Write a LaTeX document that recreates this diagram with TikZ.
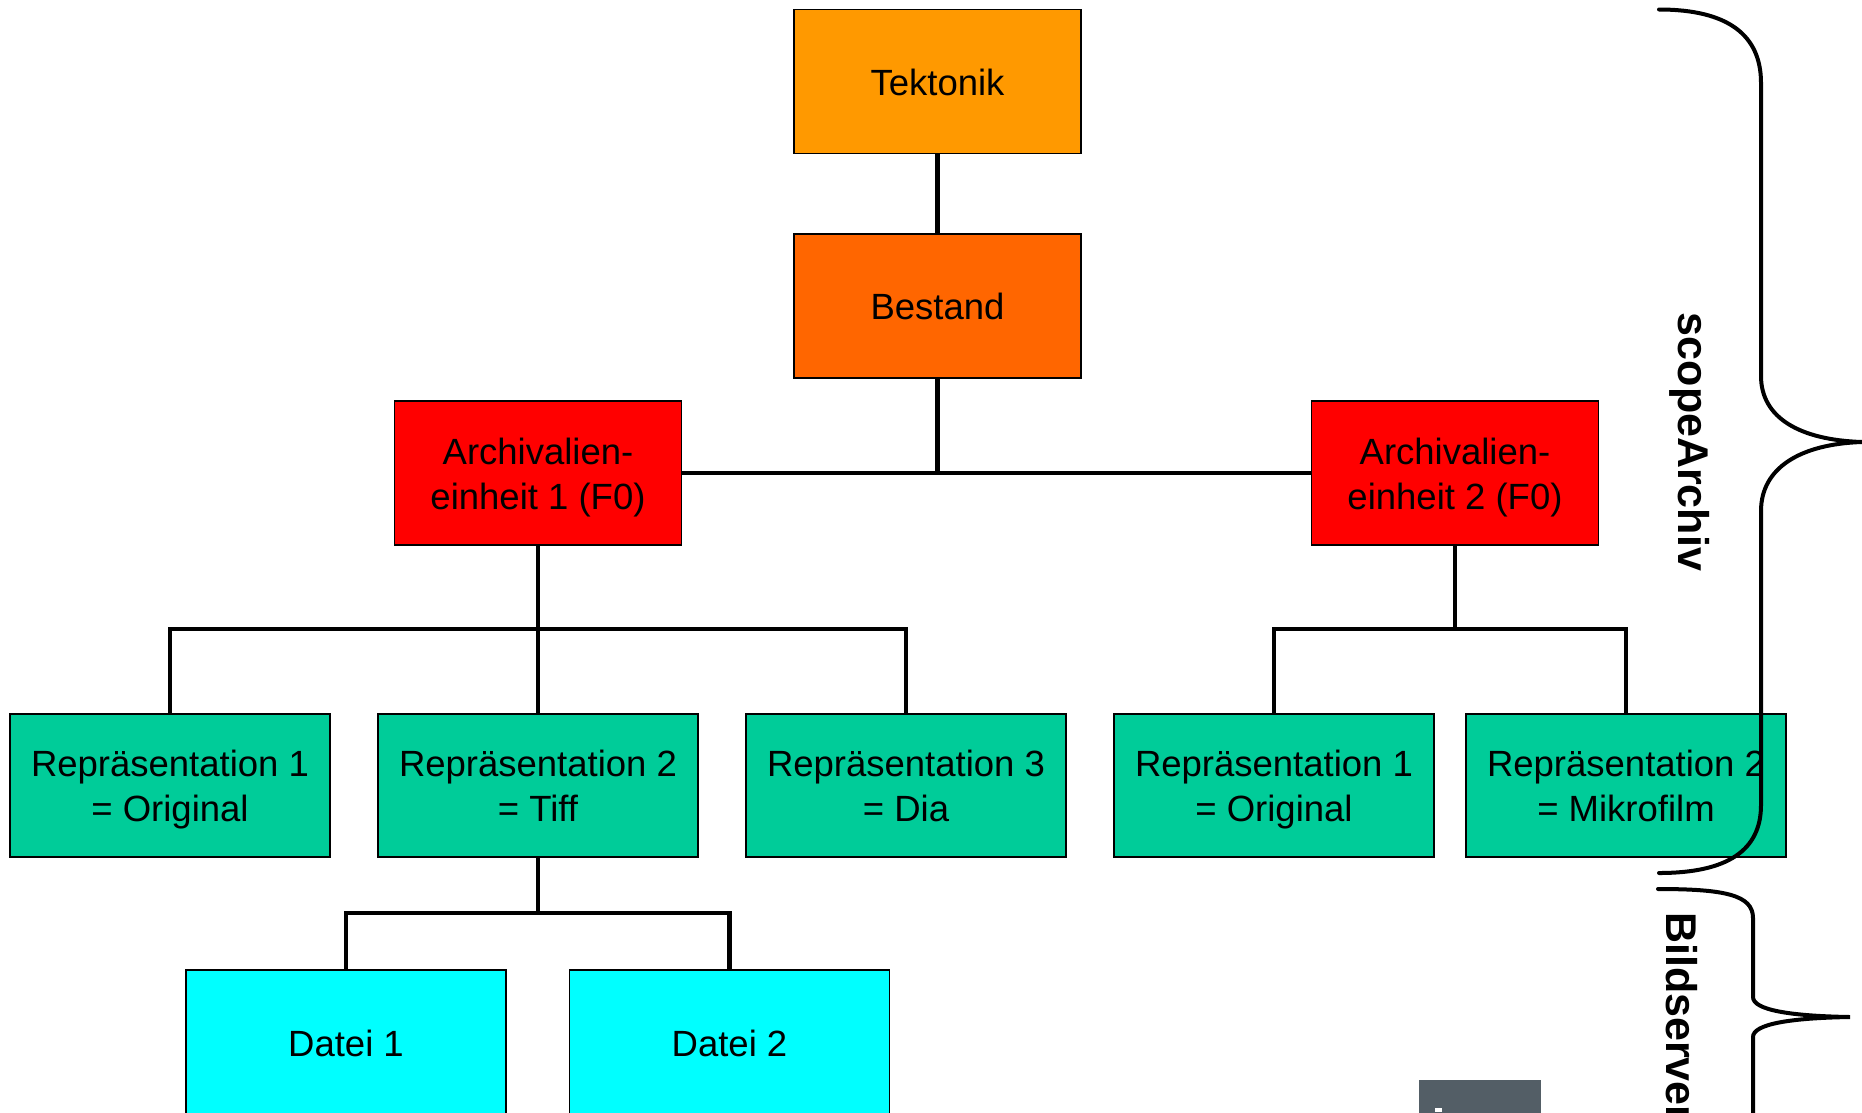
\documentclass[tikz,border=0pt]{standalone}
\usepackage{fontspec}
\setmainfont{Liberation Sans}
\definecolor{tekt}{RGB}{255,153,0}
\definecolor{best}{RGB}{255,102,0}
\definecolor{archc}{RGB}{255,0,0}
\definecolor{repc}{RGB}{0,204,153}
\definecolor{dateic}{RGB}{0,255,255}
\definecolor{grayb}{RGB}{83,94,102}
\begin{document}
\begin{tikzpicture}[x=1pt,y=-1pt,
  box/.style={draw=black, line width=1.8pt, inner sep=0pt, align=center,
    font=\fontsize{36.5}{45}\selectfont},
  oneline/.style={text height=27pt, text depth=0pt},
  twoline/.style={text height=72pt, text depth=0pt},
  topbox/.style={box, minimum width=287pt, minimum height=144pt},
  repbox/.style={box, twoline, fill=repc, minimum width=320pt, minimum height=143pt},
  dateibox/.style={box, oneline, fill=dateic, minimum width=320pt, minimum height=145pt},
  conn/.style={line width=4.4pt},
  bracepath/.style={line width=4pt, line cap=round},
  bracelabel/.style={rotate=-90, font=\fontsize{43}{43}\selectfont\bfseries, inner sep=0pt}
]
\useasboundingbox (0,0) rectangle (1862,1112);

% nodes
\node[topbox, oneline, fill=tekt] (tek) at (937.5,81.5) {Tektonik};
\node[topbox, oneline, fill=best] (best) at (937.5,306) {Bestand};
\node[topbox, twoline, fill=archc] (a1) at (538,473) {Archivalien-\\einheit 1 (F0)};
\node[topbox, twoline, fill=archc] (a2) at (1455,473) {Archivalien-\\einheit 2 (F0)};

\node[repbox] (r1) at (170,785.5) {Repräsentation 1\\= Original};
\node[repbox] (r2) at (538,785.5) {Repräsentation 2\\= Tiff};
\node[repbox] (r3) at (906,785.5) {Repräsentation 3\\= Dia};
\node[repbox] (r4) at (1274,785.5) {Repräsentation 1\\= Original};
\node[repbox] (r5) at (1626,785.5) {Repräsentation 2\\= Mikrofilm};

\node[dateibox] (d1) at (346,1042.5) {Datei 1};
\node[dateibox] (d2) at (729.5,1042.5) {Datei 2};

% junction coordinates
\coordinate (j0) at (937.5,473);
\coordinate (j1) at (538,629);
\coordinate (j2) at (1455,629);
\coordinate (j3) at (538,913);

% connectors
\draw[conn] (tek.south) -- (best.north);
\draw[conn] (best.south) -- (j0);
\draw[conn] (a1.east) -- (a2.west);
\draw[conn] (a1.south) -- (r2.north);
\draw[conn] (r1.north) |- (j1) -| (r3.north);
\draw[conn] (a2.south) -- (j2);
\draw[conn] (r4.north) |- (j2) -| (r5.north);
\draw[conn] (r2.south) -- (j3);
\draw[conn] (d1.north) |- (j3) -| (d2.north);

% braces
\draw[bracepath] (1659,9.5) .. controls (1728,9.5) and (1761,35) .. (1761,83)
  -- (1761,376) .. controls (1761,418) and (1800,440) .. (1862,442)
  .. controls (1800,444) and (1761,468) .. (1761,511)
  -- (1761,805) .. controls (1761,850) and (1728,873) .. (1659,873);
\draw[bracepath] (1658,889) .. controls (1725,889) and (1753,895) .. (1753,918)
  -- (1753,997) .. controls (1753,1010) and (1790,1016) .. (1850,1017)
  .. controls (1790,1018) and (1753,1024) .. (1753,1037)
  -- (1753,1130);

% labels
\node[bracelabel, anchor=base] (lscope) at (1678,442) {scopeArchiv};
\node[bracelabel, anchor=base west] (lbild) at (1666,912) {Bildserver};

% gray box
\fill[grayb] (1419,1080) rectangle (1541,1115);
\fill[white] (1435,1108) rectangle (1442,1112);
\end{tikzpicture}
\end{document}
